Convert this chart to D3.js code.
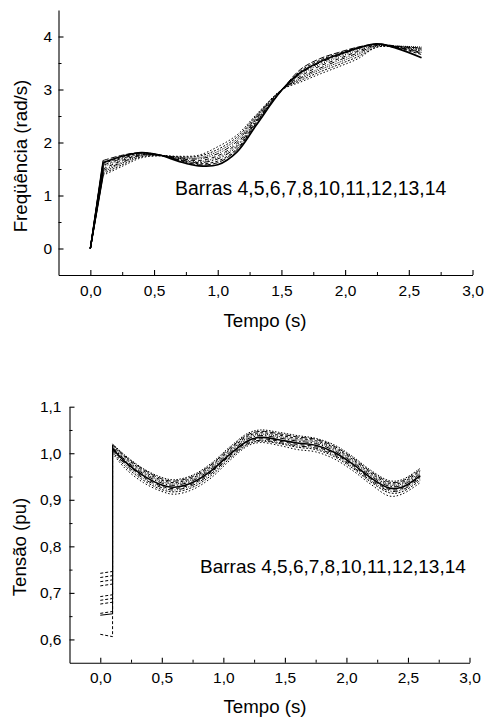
<!DOCTYPE html>
<html lang="pt">
<head>
<meta charset="UTF-8">
<title>Frequência e Tensão - Barras</title>
<script src="https://d3js.org/d3.v7.min.js"></script>
<style>
    body { margin: 0; background: #fff; }
    svg text { font-family: Arial, "Liberation Sans", sans-serif; fill: #000; }
</style>
</head>
<body>
<script>
    // ---- dados ----
    var barras = [4, 5, 6, 7, 8, 10, 11, 12, 13, 14];
    var rotulo = "Barras 4,5,6,7,8,10,11,12,13,14";

    // frequencia (rad/s): todas partem de 0 em t = 0, reta ate t = 0,1 s
    var tempoFreq = [0.1, 0.25, 0.4, 0.55, 0.7, 0.85, 1.0, 1.15, 1.3, 1.5, 1.65, 1.8, 1.95, 2.1, 2.25, 2.4, 2.6];
    var freqB4  = [1.62, 1.74, 1.81, 1.76, 1.64, 1.56, 1.58, 1.82, 2.32, 2.98, 3.32, 3.52, 3.66, 3.78, 3.86, 3.78, 3.60];
    var freqB5  = [1.66, 1.76, 1.81, 1.76, 1.66, 1.58, 1.62, 1.86, 2.36, 2.98, 3.38, 3.58, 3.70, 3.80, 3.86, 3.82, 3.78];
    var freqB6  = [1.60, 1.72, 1.80, 1.76, 1.67, 1.60, 1.65, 1.88, 2.38, 2.98, 3.35, 3.55, 3.68, 3.79, 3.85, 3.79, 3.66];
    var freqB7  = [1.57, 1.70, 1.79, 1.76, 1.68, 1.62, 1.69, 1.92, 2.40, 2.98, 3.30, 3.50, 3.64, 3.77, 3.86, 3.80, 3.70];
    var freqB8  = [1.54, 1.68, 1.78, 1.76, 1.69, 1.64, 1.72, 1.95, 2.42, 2.98, 3.28, 3.47, 3.61, 3.74, 3.84, 3.81, 3.74];
    var freqB10 = [1.50, 1.66, 1.77, 1.76, 1.70, 1.66, 1.75, 1.98, 2.44, 2.99, 3.25, 3.44, 3.58, 3.72, 3.84, 3.80, 3.68];
    var freqB11 = [1.47, 1.63, 1.76, 1.76, 1.71, 1.69, 1.79, 2.02, 2.46, 2.99, 3.22, 3.40, 3.55, 3.69, 3.83, 3.81, 3.76];
    var freqB12 = [1.44, 1.61, 1.75, 1.75, 1.72, 1.71, 1.83, 2.06, 2.48, 2.99, 3.20, 3.37, 3.51, 3.66, 3.82, 3.82, 3.80];
    var freqB13 = [1.41, 1.58, 1.73, 1.75, 1.73, 1.74, 1.87, 2.10, 2.50, 2.99, 3.17, 3.33, 3.47, 3.62, 3.80, 3.80, 3.72];
    var freqB14 = [1.38, 1.55, 1.71, 1.75, 1.74, 1.76, 1.92, 2.14, 2.52, 2.99, 3.14, 3.29, 3.43, 3.58, 3.80, 3.81, 3.78];

    // tensao (pu): valor durante a falta (t = 0 e t = 0,1 s) e depois da eliminacao
    var tensaoFalta0 = [0.742, 0.733, 0.724, 0.715, 0.692, 0.652, 0.684, 0.676, 0.656, 0.611];
    var tensaoFalta1 = [0.746, 0.737, 0.728, 0.719, 0.696, 0.655, 0.688, 0.680, 0.660, 0.606];
    var tempoTensao = [0.1, 0.2, 0.35, 0.5, 0.6, 0.75, 0.9, 1.05, 1.2, 1.3, 1.45, 1.6, 1.75, 1.9, 2.05, 2.2, 2.35, 2.45, 2.6];
    var tensaoB4  = [1.020, 0.996, 0.967, 0.948, 0.943, 0.953, 0.978, 1.013, 1.043, 1.050, 1.045, 1.038, 1.032, 1.018, 0.993, 0.963, 0.941, 0.943, 0.968];
    var tensaoB5  = [1.019, 0.994, 0.965, 0.945, 0.940, 0.950, 0.975, 1.010, 1.040, 1.047, 1.042, 1.035, 1.030, 1.015, 0.990, 0.960, 0.938, 0.940, 0.965];
    var tensaoB6  = [1.017, 0.992, 0.962, 0.942, 0.937, 0.947, 0.972, 1.007, 1.037, 1.044, 1.039, 1.032, 1.027, 1.012, 0.987, 0.957, 0.935, 0.937, 0.962];
    var tensaoB7  = [1.015, 0.989, 0.959, 0.939, 0.934, 0.944, 0.969, 1.004, 1.034, 1.041, 1.036, 1.029, 1.024, 1.009, 0.984, 0.954, 0.932, 0.934, 0.959];
    var tensaoB8  = [1.013, 0.986, 0.956, 0.936, 0.931, 0.941, 0.966, 1.001, 1.031, 1.038, 1.033, 1.026, 1.021, 1.006, 0.981, 0.951, 0.929, 0.931, 0.956];
    var tensaoB10 = [1.010, 0.982, 0.952, 0.932, 0.927, 0.937, 0.962, 0.997, 1.027, 1.034, 1.029, 1.022, 1.017, 1.002, 0.977, 0.947, 0.925, 0.927, 0.952];
    var tensaoB11 = [1.008, 0.980, 0.949, 0.929, 0.924, 0.934, 0.959, 0.994, 1.024, 1.031, 1.026, 1.019, 1.014, 0.999, 0.974, 0.944, 0.922, 0.924, 0.949];
    var tensaoB12 = [1.006, 0.977, 0.946, 0.926, 0.921, 0.931, 0.956, 0.991, 1.021, 1.028, 1.023, 1.016, 1.011, 0.996, 0.971, 0.941, 0.919, 0.921, 0.946];
    var tensaoB13 = [1.003, 0.973, 0.942, 0.922, 0.917, 0.927, 0.952, 0.988, 1.019, 1.026, 1.021, 1.013, 1.008, 0.993, 0.968, 0.938, 0.915, 0.917, 0.942];
    var tensaoB14 = [1.000, 0.968, 0.937, 0.918, 0.912, 0.922, 0.947, 0.984, 1.016, 1.023, 1.017, 1.008, 1.003, 0.988, 0.963, 0.933, 0.908, 0.912, 0.937];

    var xTicks = [0, 0.5, 1, 1.5, 2, 2.5, 3];
    var xMinor = [0.25, 0.75, 1.25, 1.75, 2.25, 2.75];
    var freqTicks = [0, 1, 2, 3, 4];
    var freqMinor = [0.5, 1.5, 2.5, 3.5];
    var tensaoTicks = [0.6, 0.7, 0.8, 0.9, 1.0, 1.1];
    var tensaoMinor = [0.65, 0.75, 0.85, 0.95, 1.05];

    var freqSeries = [freqB4, freqB5, freqB6, freqB7, freqB8, freqB10, freqB11, freqB12, freqB13, freqB14];
    var tensaoSeries = [tensaoB4, tensaoB5, tensaoB6, tensaoB7, tensaoB8, tensaoB10, tensaoB11, tensaoB12, tensaoB13, tensaoB14];

    // estilos de linha (um por barra)
    var freqDash = ["", "6,2", "3,2", "6,2,1.5,2", "1,1.5", "4,3", "5,1.5,1,1.5,1,1.5", "1,1", "2,1.5", "1.5,2"];
    var tensaoDash = ["1.5,1.5", "6,2", "3,2", "1,1", "6,2,1.5,2", "", "4,3", "5,1.5,1,1.5,1,1.5", "2,1.5", "1.5,2"];

    var width = 487, height = 717;
    var commaFmt = function (d) {
        return d3.format(".1f")(d).replace(".", ",");
    };

    var svg = d3.select("body").append("svg")
        .attr("width", width)
        .attr("height", height);

    var drawAxes = function (g, x, y, opt) {
        var xAxis = g.append("g")
            .attr("transform", "translate(0," + y.range()[0] + ")")
            .call(d3.axisBottom(x).tickValues(xTicks).tickSizeInner(-5).tickSizeOuter(0)
                .tickPadding(opt.xPad).tickFormat(commaFmt));
        g.append("g")
            .attr("transform", "translate(0," + y.range()[0] + ")")
            .call(d3.axisBottom(x).tickValues(xMinor).tickSize(-3).tickFormat(""))
            .call(function (s) { s.select(".domain").remove(); });

        var yAxis = g.append("g")
            .attr("transform", "translate(" + x.range()[0] + ",0)")
            .call(d3.axisLeft(y).tickValues(opt.yTicks).tickSizeInner(-5).tickSizeOuter(0)
                .tickPadding(opt.yPad).tickFormat(opt.yFmt));
        g.append("g")
            .attr("transform", "translate(" + x.range()[0] + ",0)")
            .call(d3.axisLeft(y).tickValues(opt.yMinor).tickSize(-3).tickFormat(""))
            .call(function (s) { s.select(".domain").remove(); });

        [xAxis, yAxis].forEach(function (a) {
            a.attr("font-family", null).attr("font-size", null);
            a.selectAll("text").style("font-size", "15.5px");
            a.selectAll("path, line").attr("stroke", "#000").attr("stroke-width", 1.1);
        });
        g.selectAll("line").attr("stroke", "#000");
    };

    // ---------- grafico superior: frequencia ----------
    var xF = d3.scaleLinear().domain([-0.25, 3]).range([58.5, 472.5]);
    var yF = d3.scaleLinear().domain([-0.5, 4.5]).range([275, 10]);
    var gF = svg.append("g");

    var lineF = d3.line()
        .x(function (d) { return xF(d[0]); })
        .y(function (d) { return yF(d[1]); })
        .curve(d3.curveCatmullRom.alpha(0.5));
    var segF = d3.line()
        .x(function (d) { return xF(d[0]); })
        .y(function (d) { return yF(d[1]); });

    freqSeries.forEach(function (vals, i) {
        var pts = tempoFreq.map(function (t, j) { return [t, vals[j]]; });
        var w = freqDash[i] === "" ? 1.7 : 1;
        gF.append("path")
            .attr("d", segF([[0, 0], pts[0]]))
            .attr("fill", "none").attr("stroke", "#000").attr("stroke-width", 1.3);
        gF.append("path")
            .attr("d", lineF(pts))
            .attr("fill", "none")
            .attr("stroke", "#000")
            .attr("stroke-width", w)
            .attr("stroke-dasharray", freqDash[i] || null);
    });

    drawAxes(gF, xF, yF, {
        xPad: 10, yPad: 6.5, yTicks: freqTicks, yMinor: freqMinor,
        yFmt: d3.format("d")
    });

    svg.append("text").attr("x", 175).attr("y", 195)
        .style("font-size", "19.4px").text(rotulo);
    svg.append("text").attr("x", 265).attr("y", 327)
        .attr("text-anchor", "middle").style("font-size", "18.7px").text("Tempo (s)");
    svg.append("text").attr("transform", "translate(27,156) rotate(-90)")
        .attr("text-anchor", "middle").style("font-size", "18.7px").text("Freqüência (rad/s)");

    // ---------- grafico inferior: tensao ----------
    var xT = d3.scaleLinear().domain([-0.25, 3]).range([69.5, 469.5]);
    var yT = d3.scaleLinear().domain([0.55, 1.1]).range([662.7, 406.7]);
    var gT = svg.append("g");

    var lineT = d3.line()
        .x(function (d) { return xT(d[0]); })
        .y(function (d) { return yT(d[1]); })
        .curve(d3.curveCatmullRom.alpha(0.5));
    var segT = d3.line()
        .x(function (d) { return xT(d[0]); })
        .y(function (d) { return yT(d[1]); });

    tensaoSeries.forEach(function (vals, i) {
        var pts = tempoTensao.map(function (t, j) { return [t, vals[j]]; });
        var w = tensaoDash[i] === "" ? 1.6 : 1;
        gT.append("path")
            .attr("d", segT([[0, tensaoFalta0[i]], [0.1, tensaoFalta1[i]], pts[0]]))
            .attr("fill", "none").attr("stroke", "#000").attr("stroke-width", 1)
            .attr("stroke-dasharray", tensaoDash[i] === "" ? null : "3,2");
        gT.append("path")
            .attr("d", lineT(pts))
            .attr("fill", "none")
            .attr("stroke", "#000")
            .attr("stroke-width", w)
            .attr("stroke-dasharray", tensaoDash[i] || null);
    });

    drawAxes(gT, xT, yT, {
        xPad: 9, yPad: 8, yTicks: tensaoTicks, yMinor: tensaoMinor,
        yFmt: commaFmt
    });

    svg.append("text").attr("x", 200).attr("y", 573)
        .style("font-size", "19px").text(rotulo);
    svg.append("text").attr("x", 265).attr("y", 713)
        .attr("text-anchor", "middle").style("font-size", "18.7px").text("Tempo (s)");
    svg.append("text").attr("transform", "translate(26,547) rotate(-90)")
        .attr("text-anchor", "middle").style("font-size", "18.7px").text("Tensão (pu)");
</script>
</body>
</html>
